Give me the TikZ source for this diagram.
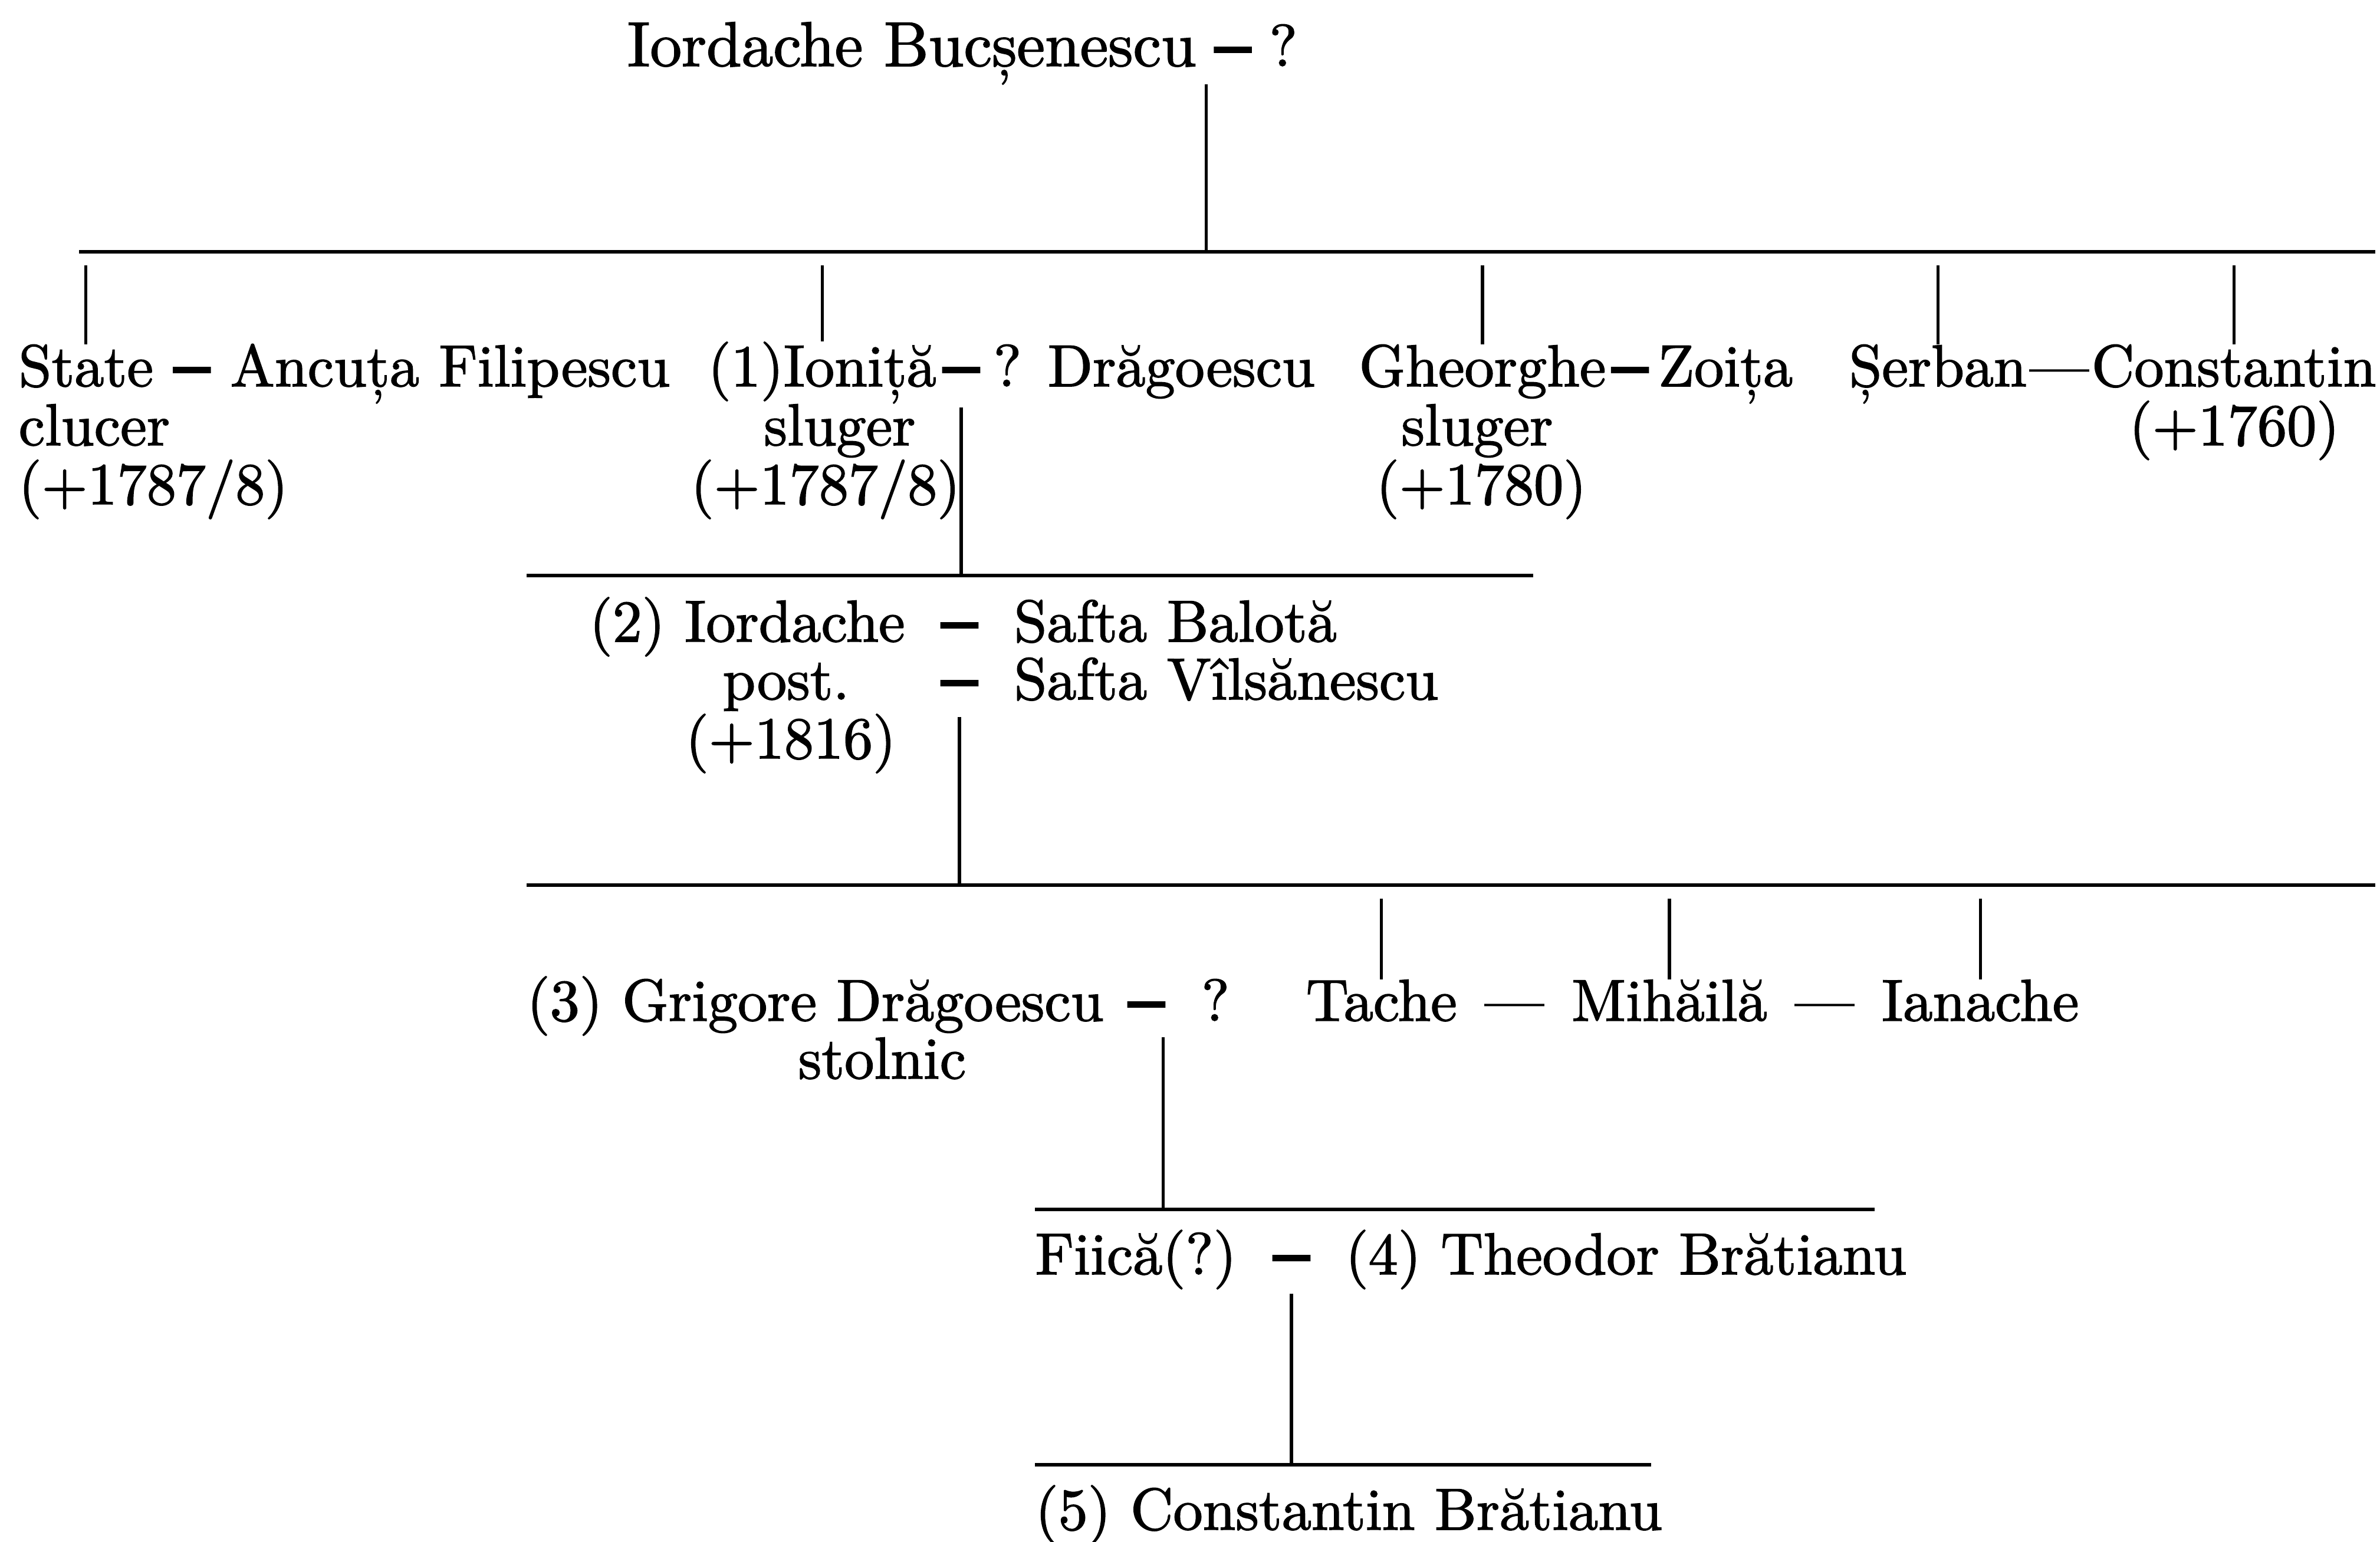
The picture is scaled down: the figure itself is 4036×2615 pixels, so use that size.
\documentclass[tikz,border=0pt]{standalone}
\usepackage{fontspec}
\setmainfont{lmroman10-regular.otf}[FakeBold=1.6]
\newfontfamily\wedfont{lmroman10-bold.otf}[FakeBold=7]
\usepackage{tikz}
\usetikzlibrary{positioning,calc}

\newcommand{\gfont}{\fontsize{28.5}{28}\selectfont}

\begin{document}
\begin{tikzpicture}[
    x=0.01cm, y=-0.01cm,
    person/.style={inner sep=0pt, font=\gfont},
    namew/.style={person, anchor=base west},
    namec/.style={person, anchor=base},
    wed/.style={person, anchor=base, font=\gfont\wedfont},
    bar/.style={line width=1.8pt},
    kin/.style={line width=1.5pt}
]
    \useasboundingbox (0,0) rectangle (4036,2615);

    \node[namew, font=\fontsize{30.5}{30}\selectfont] (iord) at (1063,112) {Iordache Bucșenescu};
    \node[wed, base right=9pt of iord] (m0) {–};
    \node[person, base right=9pt of m0] (q0) {?};

    \coordinate (b1w) at (134,427);
    \coordinate (b1e) at (4028,427);

    \node[namew] (state) at (31,655) {State};
    \node[wed, base right=10pt of state] (m1) {–};
    \node[person, base right=10pt of m1] (ancuta) {Ancuța Filipescu};
    \node[namew] (clucer) at (31,755) {clucer};
    \node[namew] (stated) at (31,855) {(+1787/8)};

    \node[namew] (ionita) at (1200,655) {(1)Ioniță};
    \node[wed] (m2) at (1630,655) {–};
    \node[person, base right=7pt of m2] (dragoescu) {? Drăgoescu};
    \node[namec] (sluger1) at (1424,755) {sluger};
    \node[namec] (ionitad) at (1400,855) {(+1787/8)};

    \node[namew] (gheorghe) at (2304,655) {Gheorghe};
    \node[wed, base right=3pt of gheorghe] (m3) {–};
    \node[person, base right=5pt of m3] (zoita) {Zoița};
    \node[namec] (sluger2) at (2505,755) {sluger};
    \node[namec] (gheorghed) at (2512,855) {(+1780)};

    \node[namew] (serban) at (3135,655) {Șerban};
    \node[person, anchor=base east] (constantin) at (4030,655) {Constantin};
    \node[namec] (m4) at ($(serban.base east)!0.5!(constantin.base west)$) {—};
    \node[namec] (constd) at (3789,755) {(+1760)};

    \coordinate (b2w) at (893,976);
    \coordinate (b2e) at (2600,976);

    \node[namew] (iordache) at (999,1088) {(2) Iordache};
    \node[wed] (m5) at (1627,1088) {–};
    \node[namew] (balota) at (1719,1088) {Safta Balotă};
    \node[namec] (post) at (1333,1186) {post.};
    \node[wed] (m6) at (1627,1186) {–};
    \node[namew] (vilsanescu) at (1719,1186) {Safta Vîlsănescu};
    \node[namec] (iordached) at (1341,1286) {(+1816)};

    \coordinate (b3w) at (893,1501);
    \coordinate (b3e) at (4028,1501);

    \node[namew] (grigore) at (893,1731) {(3) Grigore Drăgoescu};
    \node[wed, base right=12pt of grigore] (m7) {–};
    \node[person, base right=18pt of m7] (q7) {?};
    \node[namec] (stolnic) at (1496,1829) {stolnic};

    \node[namew] (tache) at (2214,1731) {Tache};
    \node[person, base right=13pt of tache] (m8) {—};
    \node[person, base right=13pt of m8] (mihaila) {Mihăilă};
    \node[person, base right=13pt of mihaila] (m9) {—};
    \node[person, base right=13pt of m9] (ianache) {Ianache};

    \coordinate (b4w) at (1755,2051);
    \coordinate (b4e) at (3179,2051);

    \node[namew] (fiica) at (1755,2161) {Fiică(?)};
    \node[wed] (m10) at (2190,2161) {–};
    \node[namew] (theodor) at (2281,2161) {(4) Theodor Brătianu};

    \coordinate (b5w) at (1755,2484);
    \coordinate (b5e) at (2800,2484);

    \node[namew] (bratianu) at (1755,2594) {(5) Constantin Brătianu};

    \draw[bar] (b1w) -- (b1e);
    \draw[bar] (b2w) -- (b2e);
    \draw[bar] (b3w) -- (b3e);
    \draw[bar] (b4w) -- (b4e);
    \draw[bar] (b5w) -- (b5e);

    \coordinate (d0) at ($(m0.south)+(-45,30)$);
    \draw[kin] (d0) -- (d0 |- b1w);
    \draw[kin] (state.north |- b1w) ++(0,23) -- (state.north);
    \draw[kin] (ionita.north |- b1w) ++(0,23) -- (ionita.north);
    \draw[kin] (gheorghe.north |- b1w) ++(0,23) -- (gheorghe.north);
    \draw[kin] (serban.north |- b1w) ++(0,23) -- (serban.north);
    \draw[kin] (constantin.north |- b1w) ++(0,23) -- (constantin.north);

    \draw[kin] (m2.south) ++(0,35) -- (m2.south |- b2w);
    \draw[kin] (m6.south) ++(0,29) -- (m6.south |- b3w);

    \draw[kin] (tache.north |- b3w) ++(0,23) -- (tache.north);
    \draw[kin] (mihaila.north |- b3w) ++(0,23) -- (mihaila.north);
    \draw[kin] (ianache.north |- b3w) ++(0,23) -- (ianache.north);

    \coordinate (d7) at ($(m7.south)!0.5!(q7.south)+(-30,27)$);
    \draw[kin] (d7) -- (d7 |- b4w);
    \draw[kin] (m10.south) ++(0,32) -- (m10.south |- b5w);
\end{tikzpicture}
\end{document}
